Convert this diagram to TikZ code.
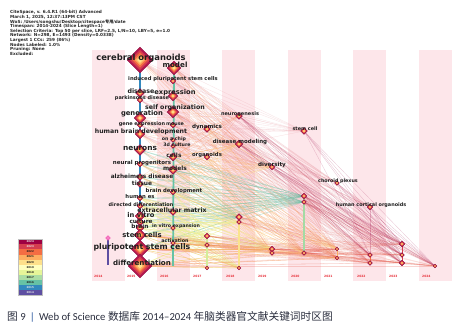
\documentclass[tikz,border=0pt]{standalone}
\usepackage{fontspec}
\setmainfont{DejaVu Sans}
\newfontfamily\kwf{DejaVu Sans}
\newfontfamily\cjk{Noto Sans CJK SC}
\newfontfamily\capf{Carlito}
\usetikzlibrary{shapes.geometric,calc}
\definecolor{stripe}{RGB}{253,230,234}
\definecolor{y24}{HTML}{9E0142}
\definecolor{y23}{HTML}{D53E4F}
\definecolor{y22}{HTML}{F46D43}
\definecolor{y21}{HTML}{FDAE61}
\definecolor{y20}{HTML}{FEE08B}
\definecolor{y19}{HTML}{FFFFBF}
\definecolor{y18}{HTML}{E6F598}
\definecolor{y17}{HTML}{ABDDA4}
\definecolor{y16}{HTML}{66C2A5}
\definecolor{y15}{HTML}{3288BD}
\definecolor{y14}{HTML}{5E4FA2}
\definecolor{r0}{HTML}{8E1040}
\definecolor{r1}{HTML}{B5174F}
\definecolor{r2}{HTML}{D53E4F}
\definecolor{r3}{HTML}{F46D43}
\definecolor{r4}{HTML}{FDAE61}
\definecolor{r5}{HTML}{FEE08B}
\definecolor{yrred}{HTML}{E8303A}
\definecolor{captxt}{HTML}{2A2E3E}
\definecolor{capbar}{HTML}{1F4E9A}
\pgfdeclarelayer{back}
\pgfdeclarelayer{edges}
\pgfsetlayers{back,edges,main}
\tikzset{
  kw/.style={diamond, inner sep=0pt, minimum size=#1, fill=r1, draw=r0, line width=0.3pt,
    path picture={\foreach \f/\c in {0.78/r2,0.58/r3,0.4/r4,0.22/r5}{
      \fill[\c] ($(path picture bounding box.center)!\f!(path picture bounding box.north)$)
        -- ($(path picture bounding box.center)!\f!(path picture bounding box.east)$)
        -- ($(path picture bounding box.center)!\f!(path picture bounding box.south)$)
        -- ($(path picture bounding box.center)!\f!(path picture bounding box.west)$) -- cycle;}}},
  kwp/.style={diamond, inner sep=0pt, minimum size=#1, fill=magenta!50, draw=magenta!70},
  lab/.style={font={\kwf\bfseries\fontsize{#1}{#1}\selectfont}, inner sep=0pt, text=black!88},
  yr/.style={font={\kwf\bfseries\fontsize{3}{3}\selectfont}, inner sep=0pt, text=yrred, anchor=west},
  eA/.style={draw=y23!65!white, line width=0.3pt, opacity=0.24},
  eB/.style={draw=y22!60!y21, line width=0.3pt, opacity=0.3},
  eC/.style={draw=y16, line width=0.45pt, opacity=0.45},
  eD/.style={draw=y18!70!y20, line width=0.5pt, opacity=0.7},
  eE/.style={draw=y22!60!y23, line width=0.3pt, opacity=0.25},
  eG/.style={draw=y24!80!white, line width=0.3pt, opacity=0.3},
  eF/.style={draw=y21, line width=0.45pt, opacity=0.45},
  eH/.style={draw=y20!80!y21, line width=0.35pt, opacity=0.4},
  colline/.style={line width=#1},
  legrow/.style={inner sep=0pt, minimum width=24pt, minimum height=5.1pt, anchor=north west,
    font={\kwf\bfseries\fontsize{2.6}{2.6}\selectfont}},
}
\begin{document}
\begin{tikzpicture}[x=1pt,y=-1pt]
\useasboundingbox (0,0) rectangle (464,329);
\begin{pgfonlayer}{back}
\fill[white] (0,0) rectangle (464,329);
\foreach \xl in {92,157,222,288,353,419}{\fill[stripe] (\xl,50) rectangle ($(\xl,281)+(33,0)$);}
\end{pgfonlayer}

% header
\node[anchor=north west, inner sep=0pt, align=left, text=black!85,
  font={\kwf\bfseries\fontsize{4.2}{4.6}\selectfont}] (hdr) at (10,10.5)
 {CiteSpace, v. 6.4.R1 (64-bit) Advanced\\
  March 1, 2025, 12:37:13PM CST\\
  WoS: /Users/songshu/Desktop/citespace{\cjk 专用}/date\\
  Timespan: 2014-2024 (Slice Length=1)\\
  Selection Criteria: Top 50 per slice, LRF=2.5, L/N=10, LBY=5, e=1.0\\
  Network: N=298, E=1493 (Density=0.0338)\\
  Largest 1 CCs: 259 (86\%)\\
  Nodes Labeled: 1.0\%\\
  Pruning: None\\
  Excluded:};

% year labels
\foreach \yv/\xl in {2014/94,2015/127,2016/160,2017/193,2018/226,2019/258,2020/291,2021/324,2022/357,2023/389,2024/422}
  {\node[yr] (yl\yv) at (\xl,276) {\yv};}

% nodes
\node[kw=26] (co) at (140,60) {};
\node[kw=14] (mod) at (174,68) {};
\node[kw=6] (ipsc) at (173,81) {};
\node[kw=9] (dis) at (140,93) {};
\node[kw=10] (exp) at (173,96) {};
\node[kw=6] (pd) at (140,100) {};
\node[kw=12] (so) at (173,112) {};
\node[kw=12] (gen) at (140,118) {};
\node[kw=6] (ge) at (140,125) {};
\node[kw=6] (mou) at (173,125) {};
\node[kw=7] (dyn) at (207,129) {};
\node[kw=10] (hbd) at (140,134) {};
\node[kw=5] (oac) at (173,140) {};
\node[kw=5] (cthree) at (173,146) {};
\node[kw=11] (neu) at (140,150) {};
\node[kw=8] (cel) at (173,157) {};
\node[kw=6] (org) at (207,157) {};
\node[kw=6] (np) at (140,164) {};
\node[kw=9] (mds) at (173,170) {};
\node[kw=7] (ad) at (140,177) {};
\node[kw=7] (tis) at (140,184) {};
\node[kw=6] (bd) at (173,192) {};
\node[kw=6] (hes) at (140,198) {};
\node[kw=6] (dd) at (140,206) {};
\node[kw=7] (ecm) at (173,212) {};
\node[kw=10] (iv) at (140,216) {};
\node[kw=8] (cul) at (140,222) {};
\node[kw=8] (br) at (140,228) {};
\node[kw=5] (ive) at (173,228) {};
\node[kw=12] (sc) at (140,235) {};
\node[kw=5] (act) at (173,243) {};
\node[kw=18] (psc) at (140,249) {};
\node[kw=24] (dif) at (140,266) {};
\node[kwp=5] (nfourteen) at (108,238) {};
\coordinate (nfourteenb) at (108,265);
\coordinate (mode) at (173,266);
\node[kw=7] (ng) at (239,116) {};
\node[kw=8] (dm) at (239,144) {};
\node[kw=7] (scl) at (304,131) {};
\node[kw=6] (div) at (272,167) {};
\node[kw=5] (cp) at (337,183) {};
\node[kw=6] (hco) at (370,207) {};
\node[kw=6] (a17) at (207,236) {};
\node[kw=5] (b17) at (207,245) {};
\node[kw=4] (c17) at (207,268) {};
\node[kw=7] (a18) at (239,217) {};
\node[kw=5] (b18) at (239,222) {};
\node[kw=4] (c18) at (239,268) {};
\node[kw=6] (a19) at (272,249) {};
\node[kw=5] (b19) at (272,253) {};
\node[kw=6] (a20) at (304,196) {};
\node[kw=5] (b20) at (304,202) {};
\node[kw=5] (c20) at (304,253) {};
\node[kw=4] (a21) at (337,249) {};
\node[kw=4] (b21) at (337,258) {};
\node[kw=5] (a22) at (370,255) {};
\node[kw=5] (b22) at (370,263) {};
\node[kw=6,fill=y24] (a23) at (402,244) {};
\node[kw=5,fill=y24] (b23) at (402,255) {};
\node[kw=6,fill=y24] (c23) at (402,263) {};
\node[kw=4,fill=y24] (a24) at (435,266) {};

% edges
\begin{pgfonlayer}{edges}
\foreach \s in {co,mod,ipsc,exp,so,gen,dis,pd,ge,mou,hbd,dyn,ng,dm}
  \foreach \t in {a23,b23,c23,a24,hco,cp,scl,a22,b22}
    {\draw[eA] (\s.center) -- (\t.center);}
\foreach \s in {co,mod,exp,so,gen,hbd,neu,cel,mds,org,oac,cthree,np,ad}
  \foreach \t in {a21,b21,c20,div,b19,dm,ng}
    {\draw[eB] (\s.center) -- (\t.center);}
\foreach \s in {neu,np,ad,tis,hes,dd,iv,cul,br,sc,psc,cel,mds,bd,ecm}
  \foreach \t in {a20,b20,a18}
    {\draw[eC] (\s.center) -- (\t.center);}
\foreach \s in {iv,cul,br,sc,psc,dif,dd,hes,ecm,ive,act,bd}
  \foreach \t in {a17,b17,b18,a19,c18}
    {\draw[eD] (\s.center) -- (\t.center);}
\foreach \s in {psc,dif,sc,act,a17,b17,a18,b18,a19,b19,c20,a20,b20}
  \foreach \t in {a22,b22,a23,b23,c23,a24,a21,b21}
    {\draw[eE] (\s.center) -- (\t.center);}
\foreach \s in {scl,cp,hco,div,dm,ng,a20,b20}
  \foreach \t in {a23,b23,c23,a24,a22}
    {\draw[eG] (\s.center) -- (\t.center);}
\foreach \s in {dif,psc,sc,act}
  \foreach \t in {c17,c18,c20,a19,b19,b21}
    {\draw[eF] (\s.center) -- (\t.center);}
\foreach \s in {tis,hes,dd,ad,np,cel,mds,bd,org,dyn}
  \foreach \t in {dm,div,a18,a19,c20,a21}
    {\draw[eH] (\s.center) -- (\t.center);}
% column lines
\draw[colline=1.6pt, y14] (nfourteen.center) -- (nfourteenb);
\draw[colline=1.8pt, y15] (co.center) -- (dif.center);
\draw[colline=1.8pt, y16] (mod.center) -- (mode);
\draw[colline=1.4pt, y18!85!y16] (a17.center) -- (c17.center);
\draw[colline=1.4pt, y20!85!y18] (a18.center) -- (c18.center);
\draw[colline=1.4pt, y17!90!y16] (a20.center) -- (c20.center);
\draw[colline=0.8pt, y21] (a21.center) -- (b21.center);
\draw[colline=0.8pt, y22] (a22.center) -- (b22.center);
\draw[colline=0.8pt, y23] (a23.center) -- (c23.center);
\end{pgfonlayer}

% labels
\node[lab=8.4] (lco) at (141,58) {cerebral organoids};
\node[lab=7.2] (lmod) at (175,65) {model};
\node[lab=5.2] (lipsc) at (173,79) {induced pluripotent stem cells};
\node[lab=6.3] (ldis) at (141,91) {disease};
\node[lab=6.7] (lexp) at (175,93) {expression};
\node[lab=5.0] (lpd) at (142,98) {parkinsons disease};
\node[lab=6.3] (lso) at (175,108) {self organization};
\node[lab=6.8] (lgen) at (142,114) {generation};
\node[lab=5.0] (lge) at (142,124) {gene expression};
\node[lab=4.8] (lmou) at (175,124) {mouse};
\node[lab=5.6] (ldyn) at (207,127) {dynamics};
\node[lab=6.2] (lhbd) at (141,132) {human brain development};
\node[lab=4.7] (loac) at (174,139) {on a chip};
\node[lab=4.7] (lcthree) at (177,145) {3d culture};
\node[lab=7.4] (lneu) at (140,148) {neurons};
\node[lab=5.9] (lcel) at (174,155) {cells};
\node[lab=5.3] (lorg) at (207,155) {organoids};
\node[lab=5.5] (lnp) at (142,163) {neural progenitors};
\node[lab=5.9] (lmds) at (175,168) {models};
\node[lab=5.8] (lad) at (142,176) {alzheimers disease};
\node[lab=5.9] (ltis) at (142,183) {tissue};
\node[lab=5.3] (lbd) at (174,191) {brain development};
\node[lab=5.3] (lhes) at (140,197) {human es};
\node[lab=4.9] (ldd) at (141,205) {directed differentiation};
\node[lab=6.2] (lecm) at (172,210) {extracellular matrix};
\node[lab=6.7] (liv) at (141,215) {in vitro};
\node[lab=5.7] (lcul) at (141,221) {culture};
\node[lab=4.7] (live) at (176,226) {in vitro expansion};
\node[lab=5.8] (lbr) at (140,226) {brain};
\node[lab=6.9] (lsc) at (142,235) {stem cells};
\node[lab=4.8] (lact) at (175,240.5) {activation};
\node[lab=7.8] (lpsc) at (142,247.5) {pluripotent stem cells};
\node[lab=7.1] (ldif) at (142,263) {differentiation};
\node[lab=5.0] (lng) at (240,114) {neurogenesis};
\node[lab=4.9] (lscl) at (305,129) {stem cell};
\node[lab=5.5] (ldm) at (240,142) {disease modeling};
\node[lab=5.6] (ldiv) at (272,165) {diversity};
\node[lab=4.8] (lcp) at (338,181) {choroid plexus};
\node[lab=4.9] (lhco) at (371,205) {human cortical organoids};

% legend
\foreach \i/\yv/\tc in {0/2024/white,1/2023/white,2/2022/black,3/2021/black,4/2020/black,5/2019/black,6/2018/black,7/2017/black,8/2016/black,9/2015/white,10/2014/white}{
  \pgfmathtruncatemacro{\cc}{\yv-2000}
  \node[legrow, fill=y\cc, text=\tc!80!gray] (leg\yv) at (18,{239+5.1*\i}) {\yv};}
\draw[black!25, line width=0.3pt] (leg2024.north west) rectangle (leg2014.south east);

% caption
\node[anchor=base west, inner sep=0pt, text=captxt, font={\capf\fontsize{10.7}{12}\selectfont}] (cap) at (7,320)
 {{\cjk 图} 9 \,{\color{capbar}|}\, Web of Science {\cjk 数据库} 2014–2024 {\cjk 年脑类器官文献关键词时区图}};
\end{tikzpicture}
\end{document}
